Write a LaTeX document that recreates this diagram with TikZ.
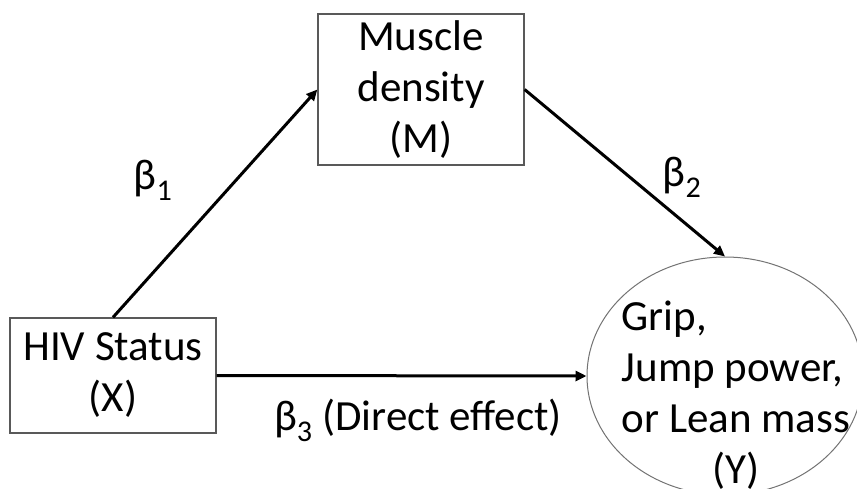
\documentclass[tikz,border=0pt]{standalone}
\usepackage{fontspec}
\setmainfont{Carlito}
\usetikzlibrary{arrows.meta,shapes.geometric}
\begin{document}
\begin{tikzpicture}
[x=1pt,y=-1pt,%
  lineDecorate/.style={-{Triangle[length=11pt,width=10pt]},line width=3pt,black},%
  boxDecorate/.style={shape=rectangle,draw=black!65,line width=1.3pt,inner sep=0pt,align=center},%
  ovalDecorate/.style={shape=ellipse,draw=black!55,line width=1pt,inner sep=0pt},%
  labelDecorate/.style={inner sep=0pt},%
  font=\fontsize{43}{51}\selectfont]
\useasboundingbox (0,0) rectangle (857,488);
%% nodes or vertices
\node (mbox) at (421,89.5) [boxDecorate,minimum width=206pt,minimum height=151pt] {Muscle\\density\\(M)};
\node (xbox) at (113,375.5) [boxDecorate,minimum width=206pt,minimum height=115pt] {HIV Status\\(X)};
\node (outY) at (725,376) [ovalDecorate,minimum width=276pt,minimum height=238pt] {};
\node (outYtext) at (736,397) [labelDecorate] {\begin{tabular}{@{}l@{}}Grip,\\Jump power,\\or Lean mass\\\multicolumn{1}{@{}c@{}}{(Y)}\end{tabular}};
%% edges or lines
\draw[lineDecorate] (xbox.north) -- (mbox.west);
\draw[lineDecorate] (mbox.east) -- (outY.north);
\draw[lineDecorate] (xbox.east) -- (outY.west);
%% edge labels
\node (b1) at (153,180) [labelDecorate] {β\textsubscript{1}};
\node (b2) at (682,177) [labelDecorate] {β\textsubscript{2}};
\node (b3) at (418,420) [labelDecorate] {β\textsubscript{3} (Direct effect)};
\end{tikzpicture}
\end{document}
